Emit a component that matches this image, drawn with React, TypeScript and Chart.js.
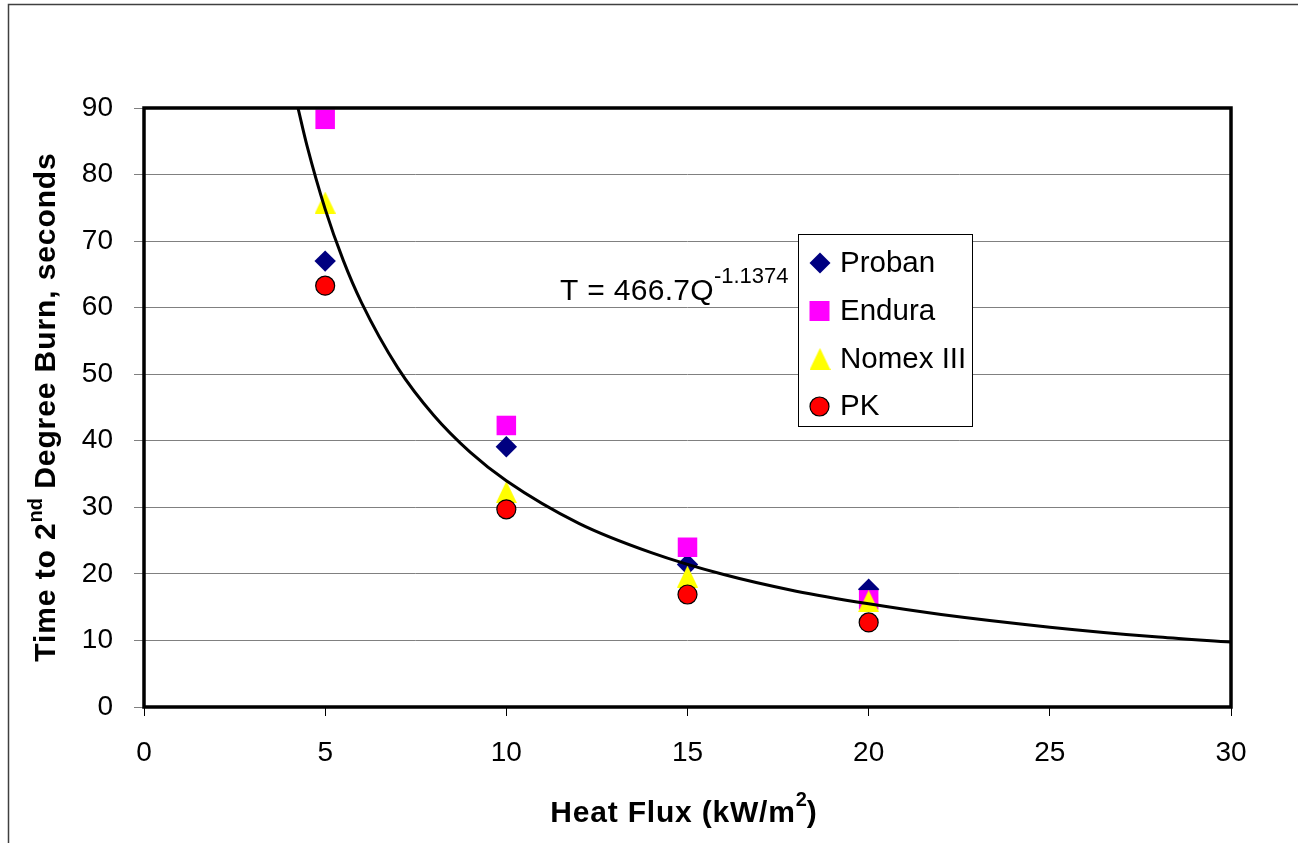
import React, { useEffect, useRef } from 'react';
import { Chart, registerables } from 'chart.js';

Chart.register(...registerables);

// ---- data ----
const heatFlux = [5, 10, 15, 20];
const proban = [67.0, 39.1, 21.4, 17.7];
const endura = [88.3, 42.3, 24.0, 16.1];
const nomex = [75.8, 32.3, 19.6, 15.9];
const pk = [63.3, 29.7, 16.9, 12.7];

// trendline points
const trendX = [4.25, 4.5, 5, 5.5, 6, 7, 8, 9, 10, 12, 14, 16, 18, 20, 22, 25, 28, 30];
const trendY = [90.0, 84.3, 74.8, 67.1, 60.8, 51.0, 43.8, 38.3, 34.0, 27.6, 23.2, 19.9, 17.4, 15.5, 13.9, 12.0, 10.5, 9.75];

const seriesNames = ['Proban', 'Endura', 'Nomex III', 'PK'];
const equationMain = 'T = 466.7Q';
const equationExp = '-1.1374';
const xTitleParts = ['Heat Flux (kW/m', '2', ')'];
const yTitleParts = ['Time to 2', 'nd', ' Degree Burn, seconds'];

const FONT = '"Liberation Sans", Arial, Helvetica, sans-serif';

function makeTriangle(w: number, h: number, color: string): HTMLCanvasElement {
  const c = document.createElement('canvas');
  c.width = w;
  c.height = h;
  const g = c.getContext('2d')!;
  g.fillStyle = color;
  g.beginPath();
  g.moveTo(w / 2, 0);
  g.lineTo(w, h);
  g.lineTo(0, h);
  g.closePath();
  g.fill();
  return c;
}

type Part = { text: string; font: string; dy: number; spacing: string };

function drawParts(ctx: CanvasRenderingContext2D, parts: Part[], x: number, y: number, align: 'left' | 'center') {
  const widths = parts.map((p) => {
    ctx.font = p.font;
    (ctx as any).letterSpacing = p.spacing;
    return ctx.measureText(p.text).width;
  });
  const total = widths.reduce((a, b) => a + b, 0);
  let cx = align === 'center' ? x - total / 2 : x;
  ctx.textAlign = 'left';
  ctx.textBaseline = 'alphabetic';
  parts.forEach((p, i) => {
    ctx.font = p.font;
    (ctx as any).letterSpacing = p.spacing;
    ctx.fillText(p.text, cx, y + p.dy);
    cx += widths[i];
  });
  (ctx as any).letterSpacing = '0px';
}

export default function App() {
  const ref = useRef<HTMLCanvasElement>(null);

  useEffect(() => {
    const canvas = ref.current!;
    const tri = makeTriangle(21, 22, '#FFFF00');

    const decor = {
      id: 'decor',
      beforeDraw(chart: any) {
        const ctx = chart.ctx;
        ctx.save();
        ctx.fillStyle = '#FFFFFF';
        ctx.fillRect(0, 0, chart.width, chart.height);
        ctx.strokeStyle = '#404040';
        ctx.lineWidth = 1.5;
        ctx.strokeRect(8.5, 4.5, 1500, 1200);
        ctx.restore();
      },
      afterDatasetsDraw(chart: any) {
        const ctx = chart.ctx;
        const a = chart.chartArea;
        ctx.save();
        // plot box
        ctx.strokeStyle = '#000000';
        ctx.lineWidth = 3.5;
        ctx.strokeRect(a.left, a.top, a.right - a.left, a.bottom - a.top);

        // equation
        ctx.fillStyle = '#000000';
        drawParts(
          ctx,
          [
            { text: equationMain, font: `30px ${FONT}`, dy: 0, spacing: '0.3px' },
            { text: equationExp, font: `22px ${FONT}`, dy: -17, spacing: '0px' },
          ],
          560,
          300,
          'left'
        );

        // legend
        ctx.fillStyle = '#FFFFFF';
        ctx.fillRect(798.5, 234.5, 174, 192);
        ctx.strokeStyle = '#000000';
        ctx.lineWidth = 1;
        ctx.strokeRect(798.5, 234.5, 174, 192);
        // diamond
        ctx.fillStyle = '#000080';
        ctx.beginPath();
        ctx.moveTo(820, 252.5);
        ctx.lineTo(830.5, 263);
        ctx.lineTo(820, 273.5);
        ctx.lineTo(809.5, 263);
        ctx.closePath();
        ctx.fill();
        // square
        ctx.fillStyle = '#FF00FF';
        ctx.fillRect(809.5, 301, 20, 20);
        // triangle
        ctx.drawImage(tri, 809.5, 348);
        // circle
        ctx.fillStyle = '#FF0000';
        ctx.beginPath();
        ctx.arc(819.5, 406.5, 9.5, 0, Math.PI * 2);
        ctx.fill();
        ctx.strokeStyle = '#000000';
        ctx.lineWidth = 1.2;
        ctx.stroke();
        ctx.fillStyle = '#000000';
        ctx.font = `29.5px ${FONT}`;
        ctx.textAlign = 'left';
        ctx.textBaseline = 'alphabetic';
        const baselines = [272, 320, 368, 415];
        seriesNames.forEach((n, i) => ctx.fillText(n, 840, baselines[i]));
        ctx.restore();
      },
      afterDraw(chart: any) {
        const ctx = chart.ctx;
        ctx.save();
        ctx.fillStyle = '#000000';
        // x title
        drawParts(
          ctx,
          [
            { text: xTitleParts[0], font: `bold 30px ${FONT}`, dy: 0, spacing: '0.8px' },
            { text: xTitleParts[1], font: `bold 20px ${FONT}`, dy: -16, spacing: '0px' },
            { text: xTitleParts[2], font: `bold 30px ${FONT}`, dy: 0, spacing: '0.8px' },
          ],
          684,
          822,
          'center'
        );
        // y title
        ctx.translate(55, 407);
        ctx.rotate(-Math.PI / 2);
        drawParts(
          ctx,
          [
            { text: yTitleParts[0], font: `bold 30px ${FONT}`, dy: 0, spacing: '0.9px' },
            { text: yTitleParts[1], font: `bold 20px ${FONT}`, dy: -13, spacing: '0px' },
            { text: yTitleParts[2], font: `bold 30px ${FONT}`, dy: 0, spacing: '0.9px' },
          ],
          0,
          0,
          'center'
        );
        ctx.restore();
      },
    };

    const pts = (ys: number[]) => heatFlux.map((x, i) => ({ x, y: ys[i] }));

    const chart = new Chart(canvas, {
      type: 'scatter',
      data: {
        datasets: [
          {
            label: 'Trend',
            data: trendX.map((x, i) => ({ x, y: trendY[i] })),
            showLine: true,
            borderColor: '#000000',
            borderWidth: 3,
            pointRadius: 0,
            cubicInterpolationMode: 'monotone',
            order: 0,
          } as any,
          {
            label: seriesNames[3],
            data: pts(pk),
            pointStyle: 'circle',
            pointRadius: 9.5,
            backgroundColor: '#FF0000',
            borderColor: '#000000',
            borderWidth: 1.2,
            order: 1,
          },
          {
            label: seriesNames[2],
            data: pts(nomex),
            pointStyle: tri,
            pointRadius: 11,
            backgroundColor: '#FFFF00',
            borderWidth: 0,
            order: 2,
          },
          {
            label: seriesNames[1],
            data: pts(endura),
            pointStyle: 'rect',
            pointRadius: 13.8,
            backgroundColor: '#FF00FF',
            borderWidth: 0,
            order: 3,
          },
          {
            label: seriesNames[0],
            data: pts(proban),
            pointStyle: 'rectRot',
            pointRadius: 10.7,
            backgroundColor: '#000080',
            borderWidth: 0,
            order: 4,
          },
        ],
      },
      options: {
        animation: false,
        responsive: false,
        devicePixelRatio: 1,
        events: [],
        layout: { padding: { left: 0, top: 108, right: 67, bottom: 0 } },
        plugins: {
          legend: { display: false },
          tooltip: { enabled: false },
        },
        scales: {
          x: {
            type: 'linear',
            min: 0,
            max: 30,
            ticks: {
              stepSize: 5,
              color: '#000000',
              font: { family: FONT, size: 28 },
              padding: 20,
            },
            grid: {
              drawOnChartArea: false,
              tickLength: 9,
              tickColor: '#000000',
              lineWidth: 1,
            },
            border: { display: false },
            afterFit: (s: any) => {
              s.height = 136;
            },
          },
          y: {
            type: 'linear',
            min: 0,
            max: 90,
            ticks: {
              stepSize: 10,
              color: '#000000',
              font: { family: FONT, size: 28 },
              padding: 21,
            },
            grid: {
              color: '#808080',
              tickColor: '#808080',
              tickLength: 10,
              lineWidth: 1,
            },
            border: { display: false },
            afterFit: (s: any) => {
              s.width = 144;
            },
          },
        },
      },
      plugins: [decor],
    });

    return () => chart.destroy();
  }, []);

  return (
    <div style={{ position: 'fixed', left: 0, top: 0, width: 1298, height: 843 }}>
      <canvas ref={ref} width={1298} height={843} style={{ display: 'block' }} />
    </div>
  );
}
